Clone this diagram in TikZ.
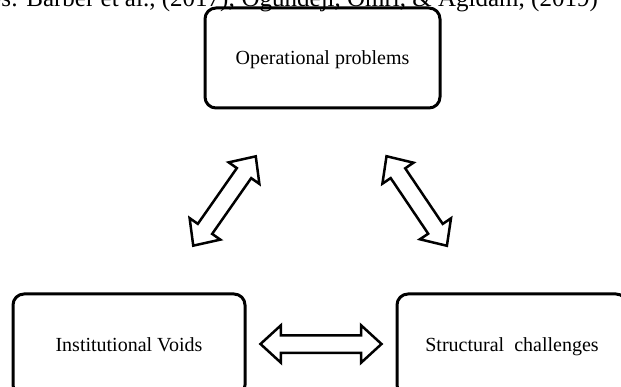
\documentclass[tikz,border=0pt]{standalone}
\usepackage{fontspec}
\setmainfont{Liberation Serif}
\usetikzlibrary{shapes.arrows}
\begin{document}
\begin{tikzpicture}[x=1pt,y=-1pt,
  box/.style={draw,line width=3pt,rounded corners=11pt,inner sep=0pt,
    text height=13pt,text depth=0pt,
    font=\fontsize{20}{24}\selectfont},
  blockarrow/.style={draw,double arrow,line width=2.5pt,inner xsep=0pt,inner ysep=7.5pt,
    minimum width=0pt,double arrow head extend=10pt,double arrow tip angle=85}]
\useasboundingbox (0,0) rectangle (621,387);
\node[anchor=base east,inner sep=0pt,font=\fontsize{25}{30}\selectfont] (src) at (598,7)
  {Sources: Barber et al., (2017); Ogundeji, Omri, \& Agidam, (2019)};
\node[box,minimum width=235pt,minimum height=100pt] (op) at (322.5,58) {Operational problems};
\node[box,minimum width=232pt,minimum height=102pt] (iv) at (129,345) {Institutional Voids};
\node[box,minimum width=230pt,minimum height=102pt] (sc) at (512,345) {Structural\ \ challenges};
\node[blockarrow,minimum height=121pt] (h) at (321,344) {};
\node[blockarrow,minimum height=109pt,rotate=55] (l) at (224.5,201) {};
\node[blockarrow,minimum height=108pt,rotate=-56] (r) at (416.7,201) {};
\end{tikzpicture}
\end{document}
